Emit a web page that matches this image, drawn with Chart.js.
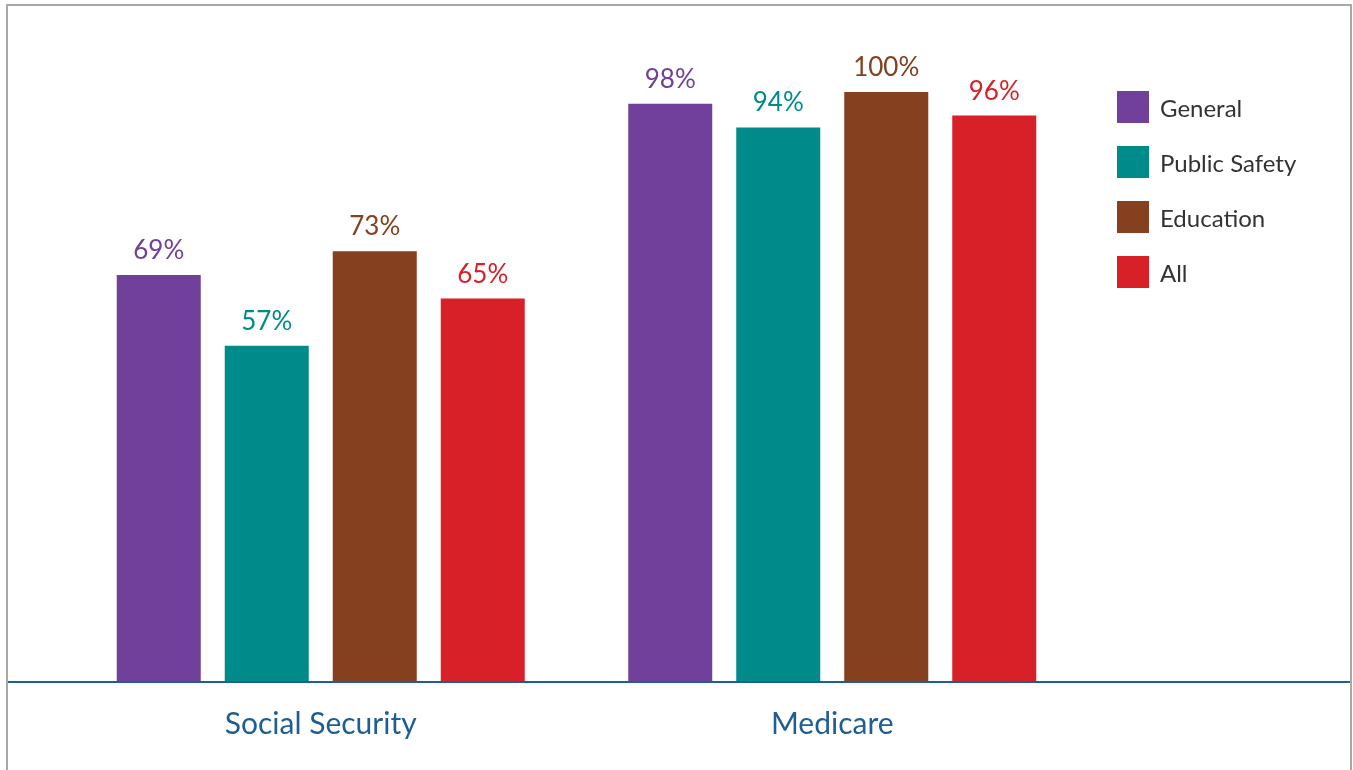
<!DOCTYPE html>
<html>
<head>
<meta charset="utf-8">
<script src="https://cdn.jsdelivr.net/npm/chart.js@4"></script>
<style>
  html, body { margin: 0; padding: 0; background: #fff; overflow: hidden; }
  #wrap { position: absolute; left: 0; top: 0; width: 1353px; height: 770px; }
  #frame { position: absolute; left: 6px; top: 4px; width: 1342px; height: 800px;
           border: 2px solid #a8a8a8; pointer-events: none; }
</style>
</head>
<body>
<div id="wrap"><canvas id="myChart" width="1353" height="770"></canvas></div>
<div id="frame"></div>
<script>
const categories = ["Social Security", "Medicare"];
const seriesNames = ["General", "Public Safety", "Education", "All"];
const general = [69, 98];
const publicSafety = [57, 94];
const education = [73, 100];
const all = [65, 96];
const colors = ["#70409a", "#008b8b", "#84401f", "#d82029"];

const fontName = "Lato";

// value labels above the bars
const valueLabels = {
  id: "valueLabels",
  afterDatasetsDraw(chart) {
    const ctx = chart.ctx;
    ctx.save();
    ctx.font = "26px " + fontName;
    ctx.textAlign = "center";
    ctx.textBaseline = "alphabetic";
    chart.data.datasets.forEach((ds, i) => {
      const meta = chart.getDatasetMeta(i);
      meta.data.forEach((bar, j) => {
        ctx.fillStyle = ds.backgroundColor;
        ctx.fillText(ds.data[j] + "%", bar.x, bar.y - 16);
      });
    });
    ctx.restore();
  }
};

// axis line across the whole frame + legend on the right
const extras = {
  id: "extras",
  afterDraw(chart) {
    const ctx = chart.ctx;
    const y = chart.chartArea.bottom;
    ctx.save();
    ctx.strokeStyle = "#1f5d95";
    ctx.lineWidth = 2;
    ctx.beginPath();
    ctx.moveTo(7, y);
    ctx.lineTo(chart.width - 3, y);
    ctx.stroke();

    ctx.font = "24px " + fontName;
    ctx.textBaseline = "middle";
    ctx.textAlign = "left";
    chart.data.datasets.forEach((ds, i) => {
      const top = 91 + i * 55;
      ctx.fillStyle = ds.backgroundColor;
      ctx.fillRect(1117, top, 32, 32);
      ctx.fillStyle = "#333333";
      ctx.fillText(ds.label, 1160, top + 18);
    });
    ctx.restore();
  }
};

const datasets = [general, publicSafety, education, all].map((d, i) => ({
  label: seriesNames[i],
  data: d,
  backgroundColor: colors[i],
  categoryPercentage: 0.8446,
  barPercentage: 0.7778
}));

const ctx = document.getElementById("myChart");
const myChart = new Chart(ctx, {
  type: "bar",
  data: { labels: categories, datasets: datasets },
  options: {
    responsive: false,
    animation: false,
    layout: { padding: { left: 65, right: 265, top: 92, bottom: 4 } },
    plugins: { legend: { display: false }, tooltip: { enabled: false } },
    scales: {
      y: { display: false, min: 0, max: 100 },
      x: {
        grid: { display: false, drawTicks: false },
        border: { display: false },
        ticks: { color: "#1f5d95", font: { family: fontName, size: 30 }, padding: 24 }
      }
    }
  },
  plugins: [valueLabels, extras]
});
</script>
</body>
</html>
